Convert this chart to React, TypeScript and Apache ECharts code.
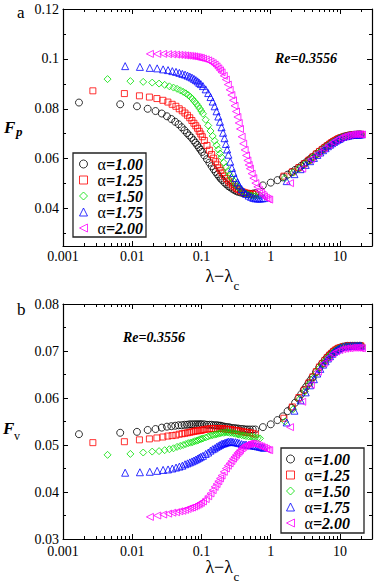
import React, { useEffect, useRef } from 'react';
import * as echarts from 'echarts';

const NAMES = ['α=1.00', 'α=1.25', 'α=1.50', 'α=1.75', 'α=2.00'];
const COLORS = ['#000000', '#ff0000', '#00e000', '#0000ff', '#ff00ff'];
const SYMBOLS = ['circle', 'rect', 'diamond', 'triangle', 'path://M0,5L10,0L10,10Z'];
const SIZES = [7, 6, 7, 7, 7];

const X_MAJOR = [0.001, 0.01, 0.1, 1, 10];
const X_MINOR = [0.002, 0.003, 0.004, 0.005, 0.006, 0.007, 0.008, 0.009, 0.02, 0.03, 0.04, 0.05, 0.06, 0.07, 0.08, 0.09, 0.2, 0.3, 0.4, 0.5, 0.6, 0.7, 0.8, 0.9, 2, 3, 4, 5, 6, 7, 8, 9, 20];
const FP_MAJOR = [0.04, 0.06, 0.08, 0.1, 0.12];
const FP_MINOR = [0.03, 0.05, 0.07, 0.09, 0.11];

// alpha = 1.00
const x100 = [0.0017, 0.0067, 0.0117, 0.0167, 0.0217, 0.0267, 0.0317, 0.0367, 0.0417, 0.0467, 0.0517, 0.0567, 0.0617, 0.0667, 0.0717, 0.0767, 0.0817, 0.0867, 0.0917, 0.0967, 0.1017, 0.11, 0.12, 0.13, 0.14, 0.15, 0.16, 0.17, 0.18, 0.19, 0.2, 0.215, 0.23, 0.245, 0.26, 0.28, 0.3, 0.32, 0.34, 0.37, 0.4, 0.43, 0.46, 0.5, 0.55, 0.6];
const fp100 = [0.0825, 0.0818, 0.081, 0.08, 0.0791, 0.0781, 0.077, 0.0759, 0.0748, 0.0738, 0.0726, 0.0714, 0.0703, 0.0693, 0.0684, 0.0674, 0.0664, 0.0655, 0.0645, 0.0636, 0.0627, 0.0613, 0.0598, 0.0584, 0.057, 0.0558, 0.0547, 0.0537, 0.0528, 0.052, 0.0514, 0.0504, 0.0497, 0.049, 0.0485, 0.0479, 0.0474, 0.047, 0.0467, 0.0464, 0.0462, 0.046, 0.0459, 0.0459, 0.046, 0.0462];
const fv100 = [0.0523, 0.0526, 0.0528, 0.0532, 0.0534, 0.0537, 0.0539, 0.054, 0.0541, 0.0542, 0.0542, 0.0543, 0.0543, 0.0544, 0.0544, 0.0544, 0.0544, 0.0544, 0.0544, 0.0544, 0.0544, 0.0544, 0.0543, 0.0543, 0.0543, 0.0542, 0.0542, 0.0542, 0.0541, 0.0541, 0.054, 0.0539, 0.0538, 0.0538, 0.0537, 0.0536, 0.0536, 0.0535, 0.0535, 0.0534, 0.0534, 0.0533, 0.0533, 0.0533, 0.0533, 0.0533];
const x100b = [0.77, 1.0, 1.25, 1.5, 1.75, 2.0, 2.25, 2.5, 2.75, 3.0, 3.25, 3.5, 3.75, 4.0, 4.5, 5.0, 5.5, 6.0, 6.5, 7.0, 7.5, 8, 9, 10, 11, 12, 13, 14, 15, 16, 17, 18, 19, 20];
const fp100b = [0.0493, 0.0504, 0.0514, 0.0525, 0.0536, 0.0546, 0.0555, 0.0563, 0.0571, 0.0579, 0.0586, 0.0593, 0.06, 0.0606, 0.0618, 0.0628, 0.0637, 0.0645, 0.0652, 0.0658, 0.0664, 0.0669, 0.0677, 0.0683, 0.0687, 0.069, 0.0692, 0.0694, 0.0695, 0.0696, 0.0696, 0.0697, 0.0697, 0.0697];
const fv100b = [0.0538, 0.0544, 0.0553, 0.0561, 0.0572, 0.0579, 0.059, 0.0599, 0.0608, 0.0617, 0.0624, 0.0631, 0.0638, 0.0644, 0.0655, 0.0665, 0.0673, 0.068, 0.0686, 0.0691, 0.0695, 0.0699, 0.0704, 0.0707, 0.0709, 0.071, 0.0711, 0.0711, 0.0711, 0.0711, 0.0711, 0.0711, 0.0711, 0.0711];

// alpha = 1.25
const x125 = [0.0027, 0.0077, 0.0127, 0.0177, 0.0227, 0.0277, 0.0327, 0.0377, 0.0427, 0.0477, 0.0527, 0.0577, 0.0627, 0.0677, 0.0727, 0.0777, 0.0827, 0.0877, 0.0927, 0.0977, 0.1027, 0.11, 0.12, 0.13, 0.14, 0.15, 0.16, 0.17, 0.18, 0.19, 0.2, 0.215, 0.23, 0.245, 0.26, 0.28, 0.3, 0.32, 0.34, 0.37, 0.4, 0.43, 0.46, 0.5, 0.55, 0.6];
const fp125 = [0.0872, 0.0861, 0.0852, 0.0847, 0.0841, 0.0834, 0.0827, 0.0818, 0.081, 0.08, 0.0792, 0.0783, 0.0774, 0.0764, 0.0753, 0.0742, 0.0732, 0.0722, 0.071, 0.0699, 0.0688, 0.0673, 0.0653, 0.0634, 0.0617, 0.0602, 0.0588, 0.0575, 0.0563, 0.0553, 0.0543, 0.0531, 0.052, 0.0511, 0.0503, 0.0495, 0.0487, 0.0481, 0.0476, 0.047, 0.0466, 0.0463, 0.0461, 0.0459, 0.0458, 0.0458];
const fv125 = [0.0505, 0.0507, 0.0511, 0.0513, 0.0515, 0.0517, 0.0519, 0.052, 0.0521, 0.0523, 0.0524, 0.0525, 0.0526, 0.0527, 0.0528, 0.0529, 0.053, 0.053, 0.0531, 0.0531, 0.0532, 0.0533, 0.0534, 0.0534, 0.0535, 0.0535, 0.0535, 0.0535, 0.0535, 0.0535, 0.0535, 0.0534, 0.0534, 0.0533, 0.0533, 0.0532, 0.0531, 0.0531, 0.053, 0.0529, 0.0528, 0.0527, 0.0527, 0.0526, 0.0525, 0.0523];
const x125b = [1.55, 2.05, 2.55, 3.05, 3.55, 4.05, 4.55, 5.05, 5.55, 6.05, 6.55, 7.05, 7.55, 8.05, 8.55, 9.05, 9.55, 10.05, 11.05, 12.05, 13.05, 14.05, 15.05, 16.05, 17.05, 18.05, 19.05, 20.05];
const fp125b = [0.053, 0.0547, 0.0564, 0.058, 0.0594, 0.0607, 0.0619, 0.0629, 0.0637, 0.0645, 0.0652, 0.0658, 0.0664, 0.0669, 0.0673, 0.0677, 0.068, 0.0683, 0.0687, 0.069, 0.0692, 0.0694, 0.0695, 0.0696, 0.0697, 0.0697, 0.0697, 0.0697];
const fv125b = [0.0557, 0.0581, 0.0601, 0.0617, 0.0632, 0.0645, 0.0656, 0.0666, 0.0673, 0.068, 0.0686, 0.0691, 0.0695, 0.0699, 0.0702, 0.0704, 0.0706, 0.0707, 0.0709, 0.071, 0.0711, 0.0711, 0.0711, 0.0711, 0.0711, 0.0711, 0.0711, 0.0711];

// alpha = 1.50
const x150 = [0.0044, 0.0094, 0.0144, 0.0194, 0.0244, 0.0294, 0.0344, 0.0394, 0.0444, 0.0494, 0.0544, 0.0594, 0.0644, 0.0694, 0.0744, 0.0794, 0.0844, 0.0894, 0.0944, 0.0994, 0.105, 0.115, 0.125, 0.135, 0.145, 0.155, 0.165, 0.175, 0.185, 0.195, 0.21, 0.225, 0.24, 0.255, 0.27, 0.29, 0.31, 0.33, 0.35, 0.38, 0.41, 0.44, 0.48, 0.52, 0.56, 0.6, 0.65, 0.7];
const fp150 = [0.0919, 0.0911, 0.0908, 0.0905, 0.0901, 0.0896, 0.089, 0.0885, 0.088, 0.0874, 0.0868, 0.0862, 0.0855, 0.0847, 0.0839, 0.0829, 0.082, 0.0811, 0.0801, 0.0791, 0.078, 0.0756, 0.0733, 0.0711, 0.0691, 0.0672, 0.0654, 0.0637, 0.0621, 0.0606, 0.0584, 0.0566, 0.055, 0.0535, 0.0523, 0.0511, 0.0498, 0.0489, 0.0481, 0.0472, 0.0465, 0.046, 0.0455, 0.0452, 0.045, 0.045, 0.0451, 0.0453];
const fv150 = [0.0479, 0.0481, 0.0484, 0.0486, 0.0487, 0.0489, 0.0491, 0.0493, 0.0496, 0.0498, 0.05, 0.0502, 0.0504, 0.0505, 0.0506, 0.0508, 0.0509, 0.051, 0.0512, 0.0513, 0.0514, 0.0516, 0.0518, 0.052, 0.0521, 0.0522, 0.0523, 0.0524, 0.0525, 0.0526, 0.0526, 0.0527, 0.0527, 0.0526, 0.0526, 0.0525, 0.0524, 0.0523, 0.0522, 0.0521, 0.052, 0.0519, 0.0518, 0.0518, 0.0517, 0.0516, 0.0515, 0.0514];
const x150b = [1.6, 2.1, 2.6, 3.1, 3.6, 4.1, 4.6, 5.1, 5.6, 6.1, 6.6, 7.1, 7.6, 8.1, 8.6, 9.1, 9.6, 10.1, 11.1, 12.1, 13.1, 14.1, 15.1, 16.1, 17.1, 18.1, 19.1, 20.1];
const fp150b = [0.0522, 0.0544, 0.0561, 0.0577, 0.0592, 0.0605, 0.0617, 0.0627, 0.0636, 0.0644, 0.0651, 0.0657, 0.0663, 0.0668, 0.0672, 0.0676, 0.068, 0.0683, 0.0687, 0.069, 0.0692, 0.0694, 0.0695, 0.0696, 0.0697, 0.0697, 0.0697, 0.0697];
const fv150b = [0.055, 0.0576, 0.0597, 0.0614, 0.0629, 0.0642, 0.0654, 0.0664, 0.0672, 0.0679, 0.0685, 0.069, 0.0694, 0.0698, 0.0701, 0.0704, 0.0705, 0.0707, 0.0709, 0.071, 0.071, 0.0711, 0.0711, 0.0711, 0.0711, 0.0711, 0.0711, 0.0711];

// alpha = 1.75
const x175 = [0.0079, 0.0129, 0.0179, 0.0229, 0.0279, 0.0329, 0.0379, 0.0429, 0.0479, 0.0529, 0.0579, 0.0629, 0.0679, 0.0729, 0.0779, 0.0829, 0.0879, 0.0929, 0.0979, 0.105, 0.115, 0.125, 0.135, 0.145, 0.155, 0.165, 0.175, 0.185, 0.195, 0.205, 0.215, 0.225, 0.235, 0.245, 0.26, 0.275, 0.29, 0.31, 0.33, 0.35, 0.38, 0.41, 0.44, 0.48, 0.52, 0.56, 0.6, 0.65, 0.7, 0.75, 0.8];
const fp175 = [0.0971, 0.0968, 0.0964, 0.0962, 0.0958, 0.0955, 0.0951, 0.0948, 0.0944, 0.094, 0.0937, 0.0933, 0.0929, 0.0925, 0.092, 0.0915, 0.091, 0.0904, 0.0899, 0.0891, 0.0878, 0.0863, 0.0847, 0.0829, 0.081, 0.079, 0.0769, 0.0748, 0.0726, 0.0704, 0.0682, 0.0659, 0.0637, 0.0616, 0.0588, 0.0563, 0.0543, 0.0522, 0.0505, 0.0493, 0.0478, 0.0467, 0.0459, 0.0452, 0.0447, 0.0443, 0.0441, 0.044, 0.044, 0.0441, 0.0442];
const fv175 = [0.0441, 0.0442, 0.0443, 0.0445, 0.0447, 0.0448, 0.045, 0.0452, 0.0454, 0.0456, 0.0459, 0.0461, 0.0463, 0.0465, 0.0467, 0.0469, 0.0471, 0.0473, 0.0475, 0.0477, 0.0481, 0.0484, 0.0488, 0.0491, 0.0493, 0.0496, 0.0498, 0.05, 0.0502, 0.0503, 0.0504, 0.0505, 0.0506, 0.0507, 0.0507, 0.0507, 0.0506, 0.0506, 0.0505, 0.0504, 0.0502, 0.0501, 0.0501, 0.05, 0.0499, 0.0499, 0.0498, 0.0497, 0.0496, 0.0495, 0.0494];
const x175b = [1.7, 2.2, 2.7, 3.2, 3.7, 4.2, 4.7, 5.2, 5.7, 6.2, 6.7, 7.2, 7.7, 8.2, 8.7, 9.2, 9.7, 10.2, 11.2, 12.2, 13.2, 14.2, 15.2, 16.2, 17.2, 18.2, 19.2, 20.2];
const fp175b = [0.051, 0.0538, 0.0558, 0.0575, 0.059, 0.0603, 0.0615, 0.0625, 0.0634, 0.0642, 0.065, 0.0656, 0.0662, 0.0667, 0.0672, 0.0676, 0.0679, 0.0682, 0.0687, 0.069, 0.0692, 0.0694, 0.0695, 0.0696, 0.0697, 0.0697, 0.0697, 0.0697];
const fv175b = [0.0548, 0.0573, 0.0595, 0.0612, 0.0627, 0.064, 0.0652, 0.0662, 0.0671, 0.0678, 0.0684, 0.0689, 0.0694, 0.0698, 0.0701, 0.0703, 0.0705, 0.0707, 0.0709, 0.071, 0.071, 0.0711, 0.0711, 0.0711, 0.0711, 0.0711, 0.0711, 0.0711];

// alpha = 2.00
const x200 = [0.018, 0.023, 0.028, 0.033, 0.038, 0.043, 0.048, 0.053, 0.058, 0.063, 0.068, 0.073, 0.078, 0.083, 0.088, 0.093, 0.098, 0.105, 0.115, 0.125, 0.135, 0.145, 0.155, 0.165, 0.175, 0.185, 0.195, 0.21, 0.225, 0.24, 0.255, 0.27, 0.285, 0.3, 0.315, 0.33, 0.345, 0.36, 0.38, 0.4, 0.42, 0.44, 0.46, 0.48, 0.5, 0.53, 0.56, 0.6, 0.64, 0.68, 0.72, 0.76, 0.8, 0.85, 0.9, 0.95];
const fp200 = [0.102, 0.102, 0.102, 0.1019, 0.1018, 0.1017, 0.1016, 0.1015, 0.1014, 0.1013, 0.1012, 0.1011, 0.101, 0.1008, 0.1007, 0.1005, 0.1004, 0.1001, 0.0998, 0.0994, 0.0989, 0.0983, 0.0977, 0.097, 0.0962, 0.0954, 0.0946, 0.0932, 0.0917, 0.0897, 0.0876, 0.0855, 0.0834, 0.0812, 0.0789, 0.0767, 0.0743, 0.0719, 0.0688, 0.066, 0.0635, 0.0613, 0.0593, 0.0575, 0.056, 0.054, 0.0522, 0.0502, 0.0487, 0.0474, 0.0464, 0.0456, 0.0449, 0.0443, 0.0439, 0.0436];
const fv200 = [0.0347, 0.035, 0.0352, 0.0354, 0.0356, 0.0357, 0.0359, 0.036, 0.0362, 0.0364, 0.0366, 0.0367, 0.0369, 0.0371, 0.0373, 0.0375, 0.0377, 0.038, 0.0385, 0.0391, 0.0397, 0.0404, 0.0411, 0.0417, 0.0423, 0.0429, 0.0435, 0.0443, 0.045, 0.0456, 0.0461, 0.0466, 0.0471, 0.0475, 0.0479, 0.0483, 0.0486, 0.0489, 0.0493, 0.0496, 0.0498, 0.05, 0.0501, 0.0502, 0.0503, 0.0503, 0.0503, 0.0502, 0.05, 0.0498, 0.0497, 0.0495, 0.0494, 0.0492, 0.049, 0.0489];
const x200b = [1.9, 2.85, 3.8, 4.8, 5.8, 6.8, 7.8, 8.8, 9.8, 10.8, 11.8, 12.8, 13.8, 14.8, 15.8, 16.8, 17.8, 18.8, 19.8, 20.8];
const fp200b = [0.0502, 0.056, 0.0598, 0.0622, 0.0641, 0.0655, 0.0666, 0.0675, 0.0682, 0.0687, 0.069, 0.0693, 0.0695, 0.0697, 0.0698, 0.0698, 0.0698, 0.0698, 0.0698, 0.0697];
const fv200b = [0.0538, 0.0592, 0.0628, 0.0656, 0.0674, 0.0686, 0.0694, 0.0699, 0.0702, 0.0704, 0.0705, 0.0706, 0.0706, 0.0707, 0.0707, 0.0707, 0.0707, 0.0707, 0.0706, 0.0706];

const XA = [x100, x125, x150, x175, x200];
const XB = [x100b, x125b, x150b, x175b, x200b];
const FPA = [fp100, fp125, fp150, fp175, fp200];
const FPB = [fp100b, fp125b, fp150b, fp175b, fp200b];
const FVA = [fv100, fv125, fv150, fv175, fv200];
const FVB = [fv100b, fv125b, fv150b, fv175b, fv200b];

const SERIF = 'Liberation Serif';

function zip(xa: number[], ya: number[], xb: number[], yb: number[]) {
  return xa.map((x, i) => [x, ya[i]]).concat(xb.map((x, i) => [x, yb[i]]));
}

const fmt = (v: number) => String(parseFloat(Number(v).toPrecision(4)));

function xAxisDef(grid: number, pos: 'top' | 'bottom', minor: boolean, labels: boolean, margin: number) {
  return {
    type: 'log',
    logBase: 10,
    gridIndex: grid,
    position: pos,
    min: 0.001,
    max: 29,
    axisLine: { show: !minor, onZero: false, lineStyle: { color: '#000', width: 1.2 } },
    axisTick: {
      show: true,
      inside: true,
      length: minor ? 3 : 5,
      customValues: minor ? X_MINOR : X_MAJOR,
      lineStyle: { color: '#000', width: 1 },
    },
    axisLabel: {
      show: labels,
      customValues: X_MAJOR,
      formatter: fmt,
      fontFamily: SERIF,
      fontSize: 14,
      color: '#000',
      margin,
    },
    splitLine: { show: false },
  };
}

function yAxisDef(grid: number, pos: 'left' | 'right', minor: boolean, labels: boolean) {
  const base: any = {
    type: 'value',
    gridIndex: grid,
    position: pos,
    axisLine: { show: !minor, onZero: false, lineStyle: { color: '#000', width: 1.2 } },
    splitLine: { show: false },
    axisLabel: {
      show: labels,
      formatter: fmt,
      fontFamily: SERIF,
      fontSize: 14,
      color: '#000',
      margin: 4,
    },
  };
  if (grid === 0) {
    base.min = 0.025;
    base.max = 0.12;
    base.axisTick = {
      show: true,
      inside: true,
      length: minor ? 3 : 5,
      customValues: minor ? FP_MINOR : FP_MAJOR,
      lineStyle: { color: '#000', width: 1 },
    };
    base.axisLabel.customValues = FP_MAJOR;
  } else {
    base.min = 0.03;
    base.max = 0.08;
    base.interval = 0.01;
    base.axisTick = { show: !minor, inside: true, length: 5, lineStyle: { color: '#000', width: 1 } };
    base.minorTick = { show: !minor, splitNumber: 2, length: 3, lineStyle: { color: '#000', width: 1 } };
  }
  return base;
}

function legendDef(left: number, top: number, padding: number[]) {
  return {
    orient: 'vertical',
    left,
    top,
    padding,
    itemGap: 0,
    itemWidth: 8,
    itemHeight: 8,
    borderColor: '#222',
    borderWidth: 1.3,
    backgroundColor: '#fff',
    selectedMode: false,
    data: NAMES.map((n, i) => ({
      name: n,
      icon: SYMBOLS[i],
      itemStyle: { color: 'rgba(0,0,0,0)', borderColor: COLORS[i], borderWidth: 1 },
    })),
    formatter: (name: string) => `{a|α}{b|${name.slice(1)}}`,
    textStyle: {
      fontFamily: SERIF,
      rich: {
        a: { fontFamily: SERIF, fontSize: 16, color: '#000', lineHeight: 15, padding: [0, 0, 0, 5] },
        b: { fontFamily: SERIF, fontSize: 16, fontStyle: 'italic', fontWeight: 'bold', color: '#000', lineHeight: 15 },
      },
    },
  };
}

function txt(text: string, x: number, y: number, size: number, bold: boolean, italic: boolean, align = 'left') {
  return {
    type: 'text',
    x,
    y,
    silent: true,
    style: {
      text,
      fontFamily: SERIF,
      fontSize: size,
      fontWeight: bold ? 'bold' : 'normal',
      fontStyle: italic ? 'italic' : 'normal',
      fill: '#000',
      align,
      verticalAlign: 'middle',
      textAlign: align,
      textVerticalAlign: 'middle',
    },
  };
}

export default function App() {
  const ref = useRef<HTMLDivElement>(null);
  useEffect(() => {
    if (!ref.current) return;
    const chart = echarts.init(ref.current, null, { renderer: 'svg', width: 382, height: 584 });
    const series: any[] = [];
    for (let p = 0; p < 2; p++) {
      for (let i = 0; i < 5; i++) {
        series.push({
          type: 'scatter',
          name: NAMES[i],
          xAxisIndex: p,
          yAxisIndex: p,
          symbol: SYMBOLS[i],
          symbolSize: SIZES[i],
          data: p === 0 ? zip(XA[i], FPA[i], XB[i], FPB[i]) : zip(XA[i], FVA[i], XB[i], FVB[i]),
          itemStyle: { color: 'rgba(0,0,0,0)', borderColor: COLORS[i], borderWidth: 1 },
          emphasis: { disabled: true },
          z: 2 + i,
        });
      }
    }
    const option: any = {
      animation: false,
      backgroundColor: '#fff',
      textStyle: { fontFamily: SERIF },
      grid: [
        { left: 63, top: 9, width: 309, height: 237 },
        { left: 63, top: 304, width: 309, height: 235 },
      ],
      xAxis: [
        xAxisDef(0, 'bottom', false, true, 3),
        xAxisDef(1, 'bottom', false, true, 5),
        xAxisDef(0, 'bottom', true, false, 3),
        xAxisDef(1, 'bottom', true, false, 3),
        xAxisDef(0, 'top', false, false, 3),
        xAxisDef(1, 'top', false, false, 3),
        xAxisDef(0, 'top', true, false, 3),
        xAxisDef(1, 'top', true, false, 3),
      ],
      yAxis: [
        yAxisDef(0, 'left', false, true),
        yAxisDef(1, 'left', false, true),
        yAxisDef(0, 'left', true, false),
        yAxisDef(0, 'right', false, false),
        yAxisDef(1, 'right', false, false),
        yAxisDef(0, 'right', true, false),
      ],
      legend: [legendDef(73, 153, [3, 3, 1, 6]), legendDef(281, 448, [3, 14, 2, 5])],
      series,
      graphic: [
        txt('a', 17, 12, 17, false, false),
        txt('b', 17, 309, 17, false, false),
        txt('F', 4, 127.5, 17, true, true),
        txt('p', 16, 131, 13, true, true),
        txt('F', 3, 428.5, 17, true, true),
        txt('v', 14, 435.5, 12, false, false),
        txt('λ−λ', 233, 276, 18, false, false, 'right'),
        txt('c', 233.5, 285, 13, false, false),
        txt('λ−λ', 233, 567, 18, false, false, 'right'),
        txt('c', 233.5, 576.5, 13, false, false),
        txt('Re=0.3556', 275, 58, 14, true, true),
        txt('Re=0.3556', 123, 337, 14, true, true),
      ],
    };
    chart.setOption(option);
    return () => chart.dispose();
  }, []);
  return (
    <div
      ref={ref}
      style={{ position: 'fixed', left: 0, top: 0, width: 382, height: 584, background: '#fff' }}
    />
  );
}
